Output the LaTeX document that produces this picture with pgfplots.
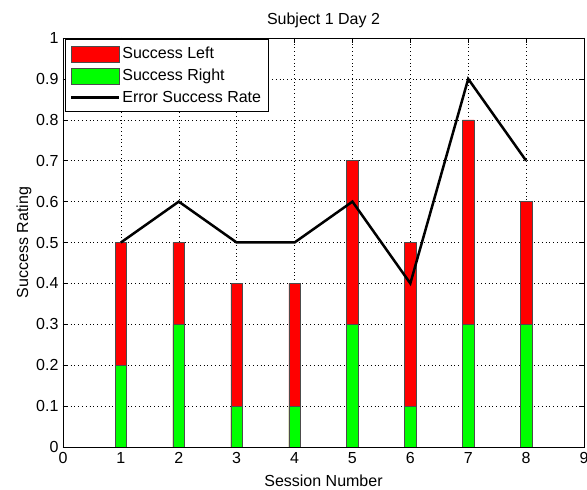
\documentclass[border=0pt]{standalone}
\usepackage{pgfplots}
\pgfplotsset{compat=1.18}
\usepackage{fontspec}
\setmainfont{Liberation Sans}
\begin{document}
\begin{tikzpicture}
\begin{axis}[
  name=ax,
  scale only axis,
  width=521pt, height=409pt,
  xmin=0, xmax=9, ymin=0, ymax=1,
  xtick={0,1,...,9},
  ytick={0,0.1,...,1},
  yticklabels={0,0.1,0.2,0.3,0.4,0.5,0.6,0.7,0.8,0.9,1},
  /pgf/number format/assume math mode=true,
  tick label style={font=\fontsize{16}{18}\selectfont},
  label style={font=\fontsize{16}{18}\selectfont},
  title style={font=\fontsize{16}{18}\selectfont, yshift=1pt},
  yticklabel style={xshift=-1pt},
  xticklabel style={yshift=-2pt},
  tick align=inside,
  major tick length=5pt,
  tick style={black, thin},
  grid=major,
  major grid style={black, line width=0.4pt, dash pattern=on 0.6pt off 3.2pt},
  title={Subject 1 Day 2},
  xlabel={Session Number},
  ylabel={Success Rating},
  xlabel style={yshift=-4pt},
  ylabel style={yshift=-2pt},
  axis line style={black, line width=0.6pt},
  legend style={at={(0.003,0.997)}, anchor=north west, draw=black, line width=0.6pt,
    font=\fontsize{16}{18}\selectfont, row sep=5.5pt, inner xsep=5pt, inner ysep=6pt,
    nodes={inner xsep=2pt, inner ysep=1.5pt}},
  legend cell align=left,
]
\addplot[ybar, bar width=0.2, bar shift=0pt, fill=red, draw=black!70, line width=0.5pt,
  legend image code/.code={\draw[fill=red,draw=black!70,line width=0.6pt] (0pt,-8pt) rectangle (48pt,8pt);}]
  coordinates {(1,0.5) (2,0.5) (3,0.4) (4,0.4) (5,0.7) (6,0.5) (7,0.8) (8,0.6)};
\addlegendentry{Success Left}
\addplot[ybar, bar width=0.2, bar shift=0pt, fill=green, draw=black!70, line width=0.5pt,
  legend image code/.code={\draw[fill=green,draw=black!70,line width=0.6pt] (0pt,-8pt) rectangle (48pt,8pt);}]
  coordinates {(1,0.2) (2,0.3) (3,0.1) (4,0.1) (5,0.3) (6,0.1) (7,0.3) (8,0.3)};
\addlegendentry{Success Right}
\addplot[black, line width=2.5pt, mark=none,
  legend image code/.code={\draw[black,line width=2.5pt] (0pt,0pt) -- (48pt,0pt);}]
  coordinates {(1,0.5) (2,0.6) (3,0.5) (4,0.5) (5,0.6) (6,0.4) (7,0.9) (8,0.7)};
\addlegendentry{Error Success Rate}
\end{axis}
\pgfresetboundingbox
\path ([xshift=-63pt,yshift=-43pt]ax.south west) rectangle ([xshift=3pt,yshift=38pt]ax.north east);
\end{tikzpicture}
\end{document}
